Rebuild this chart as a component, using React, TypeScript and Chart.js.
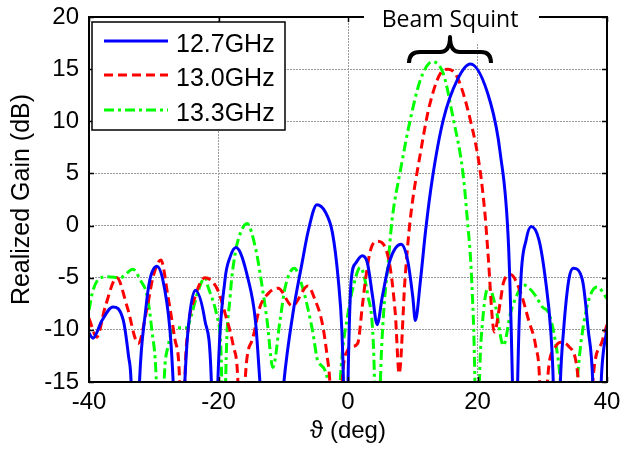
import { useEffect, useRef } from "react";
import { Chart, registerables } from "chart.js";

Chart.register(...registerables);

const FONT = "'Liberation Sans', Arial, sans-serif";

const seriesLabels = ["12.7GHz", "13.0GHz", "13.3GHz"];
const seriesColors = ["#0000ff", "#ff0000", "#00ff00"];
const seriesDashes: number[][] = [[], [9, 5], [10, 4, 3, 4]];

const xTickValues = [-40, -20, 0, 20, 40];
const yTickValues = [-15, -10, -5, 0, 5, 10, 15, 20];

// [theta (deg), realized gain (dB)]; -30 marks nulls below the visible range
const gain127: [number, number][] = [
  [-40, -10.3], [-39.4, -10.8], [-38.0, -9.1], [-36.3, -7.8], [-34.7, -9.1], [-33.9, -12.5], [-33.5, -15], [-32.9, -30], [-32.2, -15],
  [-31.3, -8.4], [-30.6, -5.2], [-29.5, -3.9], [-28.6, -5.2], [-27.5, -10], [-27.0, -15], [-26.1, -30], [-25.2, -15],
  [-24.7, -10], [-23.6, -6.2], [-22.1, -9.1], [-21.1, -15], [-20.6, -30], [-20.1, -15],
  [-19.0, -5.2], [-18.2, -3.0], [-17.3, -2.1], [-15.4, -5.2], [-14.3, -9.1], [-13.6, -15], [-11.8, -30], [-9.9, -15],
  [-8.5, -8.4], [-7.1, -3.6], [-6.1, -0.4], [-4.8, 2.0], [-3.5, 1.3], [-2.4, -0.7], [-1.5, -5.2], [-0.95, -10.0], [-0.7, -15], [-0.35, -30], [0.0, -15],
  [0.5, -5.2], [1.2, -3.6], [2.2, -2.9], [3.0, -3.6], [3.8, -6.8], [4.5, -9.5], [5.3, -6.8], [6.5, -3.3], [8.2, -1.8], [9.2, -3.3], [10.0, -6.8], [10.4, -9.1],
  [11.2, -5.2], [12.0, -0.4], [13.0, 4.4], [14.7, 10.1], [16.9, 14.0], [18.9, 15.5], [22.0, 11.8], [23.5, 7.0], [24.8, -2.0], [25.4, -15], [25.85, -30], [26.2, -15],
  [26.7, -5.2], [27.5, -1.4], [28.3, -0.1], [29.5, -1.4], [30.5, -5.2], [31.3, -10.0], [31.7, -15], [32.2, -30], [32.8, -15],
  [33.3, -10], [34.1, -5.2], [34.8, -4.1], [36.2, -5.2], [37.1, -10], [37.8, -15], [38.4, -30], [39.1, -15], [40, -9.8],
];

const gain130: [number, number][] = [
  [-40, -8.9], [-38.8, -10.7], [-37.5, -7.8], [-35.7, -5.0], [-34.1, -7.8], [-32.4, -11.3], [-31.0, -7.8], [-30.1, -4.9], [-28.9, -3.3],
  [-27.8, -6.8], [-26.7, -11.0], [-26.0, -15], [-25.6, -30], [-25.2, -15], [-24.7, -10.0], [-23.6, -6.8], [-22.1, -5.0], [-20.1, -6.2],
  [-19.0, -8.4], [-17.7, -11.6], [-17.0, -15], [-16.4, -30], [-15.9, -15], [-14.8, -11.0], [-13.6, -7.8], [-12.3, -6.5], [-10.8, -6.0],
  [-8.6, -7.7], [-6.2, -5.8], [-5.1, -7.1], [-4.0, -9.3], [-3.2, -12.6], [-2.8, -15], [-1.8, -30], [-0.9, -15], [0.0, -11.9], [0.6, -11.6],
  [1.5, -11.3], [2.2, -7.8], [2.7, -5.2], [3.5, -2.3], [4.5, -1.5], [6.2, -3.0], [7.3, -8.4], [7.9, -14.2], [8.8, -5.2], [9.6, 0.5],
  [11.2, 7.0], [12.7, 11.8], [14.7, 14.9], [15.5, 15.0], [16.9, 14.2], [18.9, 10.1], [20.4, 5.3], [21.2, 0.8], [21.6, -2.5], [22.6, -10.2],
  [23.5, -7.4], [24.0, -5.5], [25.1, -4.7], [26.7, -6.5], [27.9, -9.1], [29.0, -11.6], [29.6, -15], [30.2, -30], [30.8, -15], [31.8, -11.9],
  [32.8, -11.2], [34.1, -11.6], [35.6, -15], [36.7, -30], [37.8, -15], [39.3, -11.0], [40, -9.5],
];

const gain133: [number, number][] = [
  [-40, -8.1], [-39.5, -6.5], [-38.6, -5.2], [-37.1, -4.9], [-35.2, -5.0], [-33.2, -4.2], [-32.1, -5.2], [-31.0, -6.8], [-30.3, -10.0],
  [-29.6, -15], [-29.0, -30], [-28.4, -15], [-27.8, -11.6], [-26.7, -9.8], [-24.9, -9.8], [-24.1, -8.4], [-23.2, -6.4], [-22.1, -5.0],
  [-21.6, -5.9], [-20.2, -8.8], [-19.7, -11.0], [-19.5, -15], [-19.2, -30], [-18.9, -15], [-18.2, -6.8], [-17.4, -2.6], [-16.6, -0.7],
  [-15.6, 0.2], [-14.3, -2.1], [-13.6, -4.5], [-12.5, -9.1], [-11.6, -13.6], [-10.5, -9.1], [-9.7, -5.9], [-8.3, -4.1], [-6.9, -6.2],
  [-5.5, -10.0], [-4.6, -13.1], [-3.1, -15], [-2.1, -30], [-1.2, -15], [0.0, -8.4], [0.8, -5.9], [1.9, -4.0], [3.1, -6.8], [3.8, -10.0],
  [4.1, -15], [4.5, -30], [5.0, -15], [5.5, -8.4], [6.2, -3.6], [6.8, 0.5], [8.1, 5.3], [9.6, 10.1], [11.2, 14.0], [13.0, 15.7],
  [14.7, 14.6], [16.3, 10.1], [17.7, 5.3], [18.4, 0.8], [19.1, -5.2], [19.6, -15], [19.9, -30], [20.3, -15], [20.8, -9.1], [21.7, -5.9],
  [22.8, -7.8], [24.0, -11.5], [25.1, -8.4], [26.2, -6.5], [27.1, -5.7], [28.7, -6.5], [30.0, -7.8], [31.0, -8.4], [32.0, -11.0],
  [32.8, -15], [34.1, -30], [35.4, -15], [36.7, -8.4], [38.5, -5.9], [40, -7.0],
];

const seriesData = [gain127, gain130, gain133];

const overlayPlugin = {
  id: "overlay",
  afterDraw(chart: any) {
    const { ctx, chartArea: a, scales } = chart;
    ctx.save();
    ctx.setLineDash([]);
    // axes box
    ctx.strokeStyle = "#000";
    ctx.lineWidth = 2;
    ctx.strokeRect(a.left, a.top, a.right - a.left, a.bottom - a.top);
    // inward ticks
    ctx.lineWidth = 1.5;
    const tl = 5;
    ctx.beginPath();
    for (const v of yTickValues) {
      const y = Math.round(scales.y.getPixelForValue(v)) + 0.5;
      ctx.moveTo(a.left, y); ctx.lineTo(a.left + tl, y);
      ctx.moveTo(a.right, y); ctx.lineTo(a.right - tl, y);
    }
    for (const v of xTickValues) {
      const x = Math.round(scales.x.getPixelForValue(v)) + 0.5;
      ctx.moveTo(x, a.bottom); ctx.lineTo(x, a.bottom - tl);
      ctx.moveTo(x, a.top); ctx.lineTo(x, a.top + tl);
    }
    ctx.stroke();

    // legend
    const lx = 92, ly = 22, lw = 193, lh = 108;
    ctx.fillStyle = "#fff";
    ctx.fillRect(lx, ly, lw, lh);
    ctx.strokeStyle = "#000";
    ctx.lineWidth = 1.5;
    ctx.strokeRect(lx, ly, lw, lh);
    const rowY = [41, 75, 110];
    chart.data.datasets.forEach((ds: any, i: number) => {
      ctx.save();
      ctx.strokeStyle = ds.borderColor;
      ctx.lineWidth = 3;
      ctx.setLineDash(ds.borderDash || []);
      ctx.beginPath();
      ctx.moveTo(104, rowY[i]);
      ctx.lineTo(168, rowY[i]);
      ctx.stroke();
      ctx.restore();
      ctx.fillStyle = "#000";
      ctx.font = `25px ${FONT}`;
      ctx.textBaseline = "alphabetic";
      ctx.textAlign = "left";
      ctx.fillText(ds.label, 176, rowY[i] + 11);
    });

    // annotation "Beam Squint"
    ctx.fillStyle = "#fff";
    ctx.fillRect(364, 0, 175, 43);
    ctx.fillStyle = "#000";
    ctx.font = `23px 'Open Sans', ${FONT}`;
    ctx.textAlign = "center";
    ctx.textBaseline = "alphabetic";
    ctx.fillText("Beam Squint", 450, 27);
    // brace
    ctx.strokeStyle = "#000";
    ctx.lineWidth = 4;
    ctx.lineJoin = "round";
    ctx.beginPath();
    ctx.moveTo(409, 63);
    ctx.quadraticCurveTo(409, 52, 420, 52);
    ctx.lineTo(440, 52);
    ctx.quadraticCurveTo(450, 52, 450, 37);
    ctx.quadraticCurveTo(450, 52, 460, 52);
    ctx.lineTo(481, 52);
    ctx.quadraticCurveTo(491, 52, 491, 63);
    ctx.stroke();
    ctx.restore();
  },
};

export default function App() {
  const ref = useRef<HTMLCanvasElement | null>(null);
  useEffect(() => {
    if (!ref.current) return;
    const chart = new Chart(ref.current, {
      type: "line",
      data: {
        datasets: seriesData.map((d, i) => ({
          label: seriesLabels[i],
          data: d.map(([x, y]) => ({ x, y })),
          borderColor: seriesColors[i],
          backgroundColor: seriesColors[i],
          borderDash: seriesDashes[i],
          borderWidth: 3,
          pointRadius: 0,
          fill: false,
          cubicInterpolationMode: "monotone",
        })),
      },
      options: {
        responsive: false,
        animation: false,
        devicePixelRatio: 1,
        layout: { padding: { top: 17, right: 15, left: 0, bottom: 0 } },
        plugins: { legend: { display: false }, tooltip: { enabled: false } },
        scales: {
          x: {
            type: "linear",
            min: -40,
            max: 40,
            afterBuildTicks: (s: any) => { s.ticks = xTickValues.map((v) => ({ value: v })); },
            afterFit: (s: any) => { s.height = 70; s.paddingLeft = 0; s.paddingRight = 0; },
            ticks: { font: { size: 24, family: FONT }, color: "#000", padding: 6, maxRotation: 0 },
            grid: { color: "#9a9a9a", lineWidth: 1, drawTicks: false },
            border: { display: false, dash: [2, 1] },
            title: { display: true, text: "ϑ (deg)", font: { size: 24, family: FONT }, color: "#000", padding: { top: 0, bottom: 6 } },
          },
          y: {
            type: "linear",
            min: -15,
            max: 20,
            afterBuildTicks: (s: any) => { s.ticks = yTickValues.map((v) => ({ value: v })); },
            afterFit: (s: any) => { s.width = 89; s.paddingTop = 0; s.paddingBottom = 0; },
            ticks: { font: { size: 24, family: FONT }, color: "#000", padding: 10 },
            grid: { color: "#9a9a9a", lineWidth: 1, drawTicks: false },
            border: { display: false, dash: [2, 1] },
            title: { display: true, text: "Realized Gain (dB)", font: { size: 25, family: FONT }, color: "#000", padding: { top: 7, bottom: 0 } },
          },
        },
      },
      plugins: [overlayPlugin],
    } as any);
    return () => chart.destroy();
  }, []);
  return (
    <div style={{ position: "fixed", left: 0, top: 0, width: 622, height: 452, background: "#fff" }}>
      <canvas ref={ref} width={622} height={452} style={{ width: 622, height: 452, display: "block" }} />
    </div>
  );
}
